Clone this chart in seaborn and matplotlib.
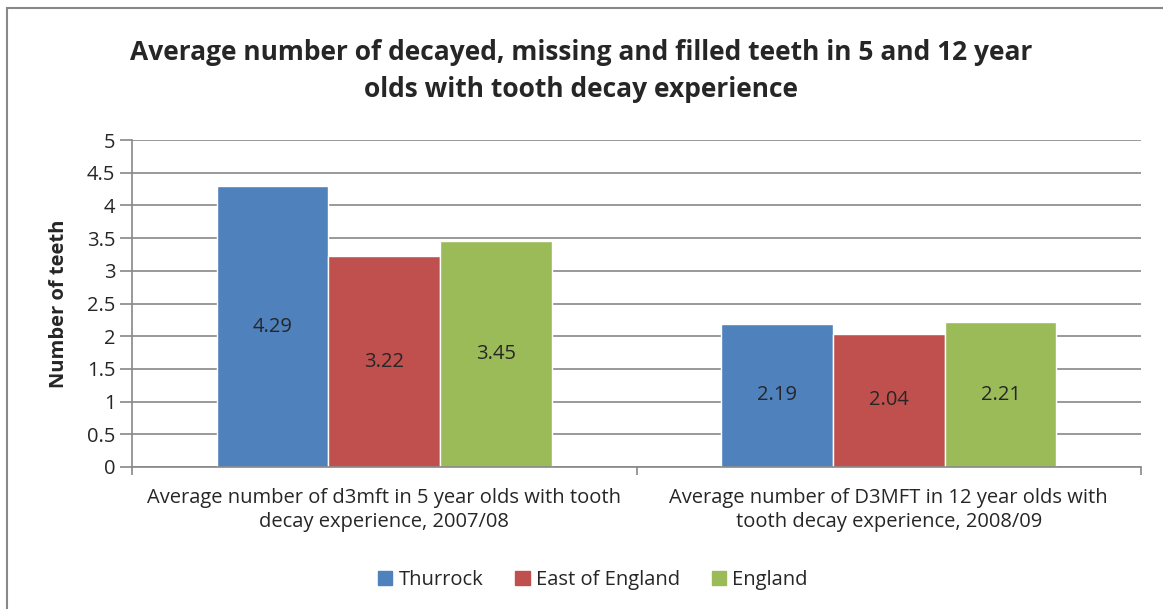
import numpy as np
import pandas as pd
import seaborn as sns
import matplotlib.pyplot as plt
from matplotlib.patches import Rectangle

categories = ["Average number of d3mft in 5 year olds with tooth\ndecay experience, 2007/08",
              "Average number of D3MFT in 12 year olds with\ntooth decay experience, 2008/09"]
areas = ["Thurrock", "East of England", "England"]
thurrock = [4.29, 2.19]
east_of_england = [3.22, 2.04]
england = [3.45, 2.21]
colors = ["#4F81BD", "#C0504D", "#9BBB59"]

df = pd.DataFrame({
    "category": categories * 3,
    "area": [a for a in areas for _ in categories],
    "value": thurrock + east_of_england + england,
})

sns.set_style("white")
plt.rcParams['font.family'] = ['Open Sans', 'DejaVu Sans']
fs = 14.5

fig = plt.figure(figsize=(11.63, 6.09), dpi=100)
ax = fig.add_axes([132 / 1163, 1 - 467 / 609, (1141 - 132) / 1163, (467 - 140) / 609])

sns.barplot(data=df, x="category", y="value", hue="area", palette=colors,
            width=0.665, saturation=1, ax=ax, legend=False)

for c in ax.containers:
    ax.bar_label(c, labels=[f"{v:.2f}" for v in c.datavalues], label_type="center", fontsize=fs)

ax.set_ylim(0, 5)
ax.set_xlim(-0.5, 1.5)
ax.set_yticks(np.arange(0, 5.01, 0.5))
ax.set_yticklabels([f"{v:g}" for v in np.arange(0, 5.01, 0.5)], fontsize=fs)
ax.yaxis.grid(True, color="#888888", linewidth=1.2)
ax.set_axisbelow(True)
ax.tick_params(axis="y", length=9, color="#888888", width=1.2, pad=3, left=True)
ax.set_xticks([0, 1])
ax.set_xticklabels(categories, fontsize=fs, linespacing=1.3)
ax.tick_params(axis="x", length=0, pad=15)
ax.set_xticks([-0.5, 0.5, 1.5], minor=True)
ax.tick_params(axis="x", which="minor", length=6, color="#888888", width=1.2, bottom=True)
for s in ["top", "right"]:
    ax.spines[s].set_visible(False)
for s in ["left", "bottom"]:
    ax.spines[s].set_color("#888888")
    ax.spines[s].set_linewidth(1.2)

ax.set_xlabel("")
ax.set_ylabel("Number of teeth", fontsize=14.5, fontweight="bold", labelpad=13)

fig.text(0.5, 1 - 71 / 609, "Average number of decayed, missing and filled teeth in 5 and 12 year\nolds with tooth decay experience",
         ha="center", va="center", fontsize=19, fontweight="bold", linespacing=1.5)

handles = [Rectangle((0, 0), 1, 1, color=c) for c in colors]
fig.legend(handles, areas, loc="center", bbox_to_anchor=(593 / 1163, 1 - 580 / 609), ncol=3,
           frameon=False, fontsize=fs, handlelength=0.7, handleheight=0.7,
           handletextpad=0.3, columnspacing=1.6)

fig.patches.append(Rectangle((7 / 1163, -0.1), 1.2, 1 - 8 / 609 + 0.1, transform=fig.transFigure,
                             fill=False, edgecolor="#888888", linewidth=1.5))

fig.savefig("out.png", dpi=100)
